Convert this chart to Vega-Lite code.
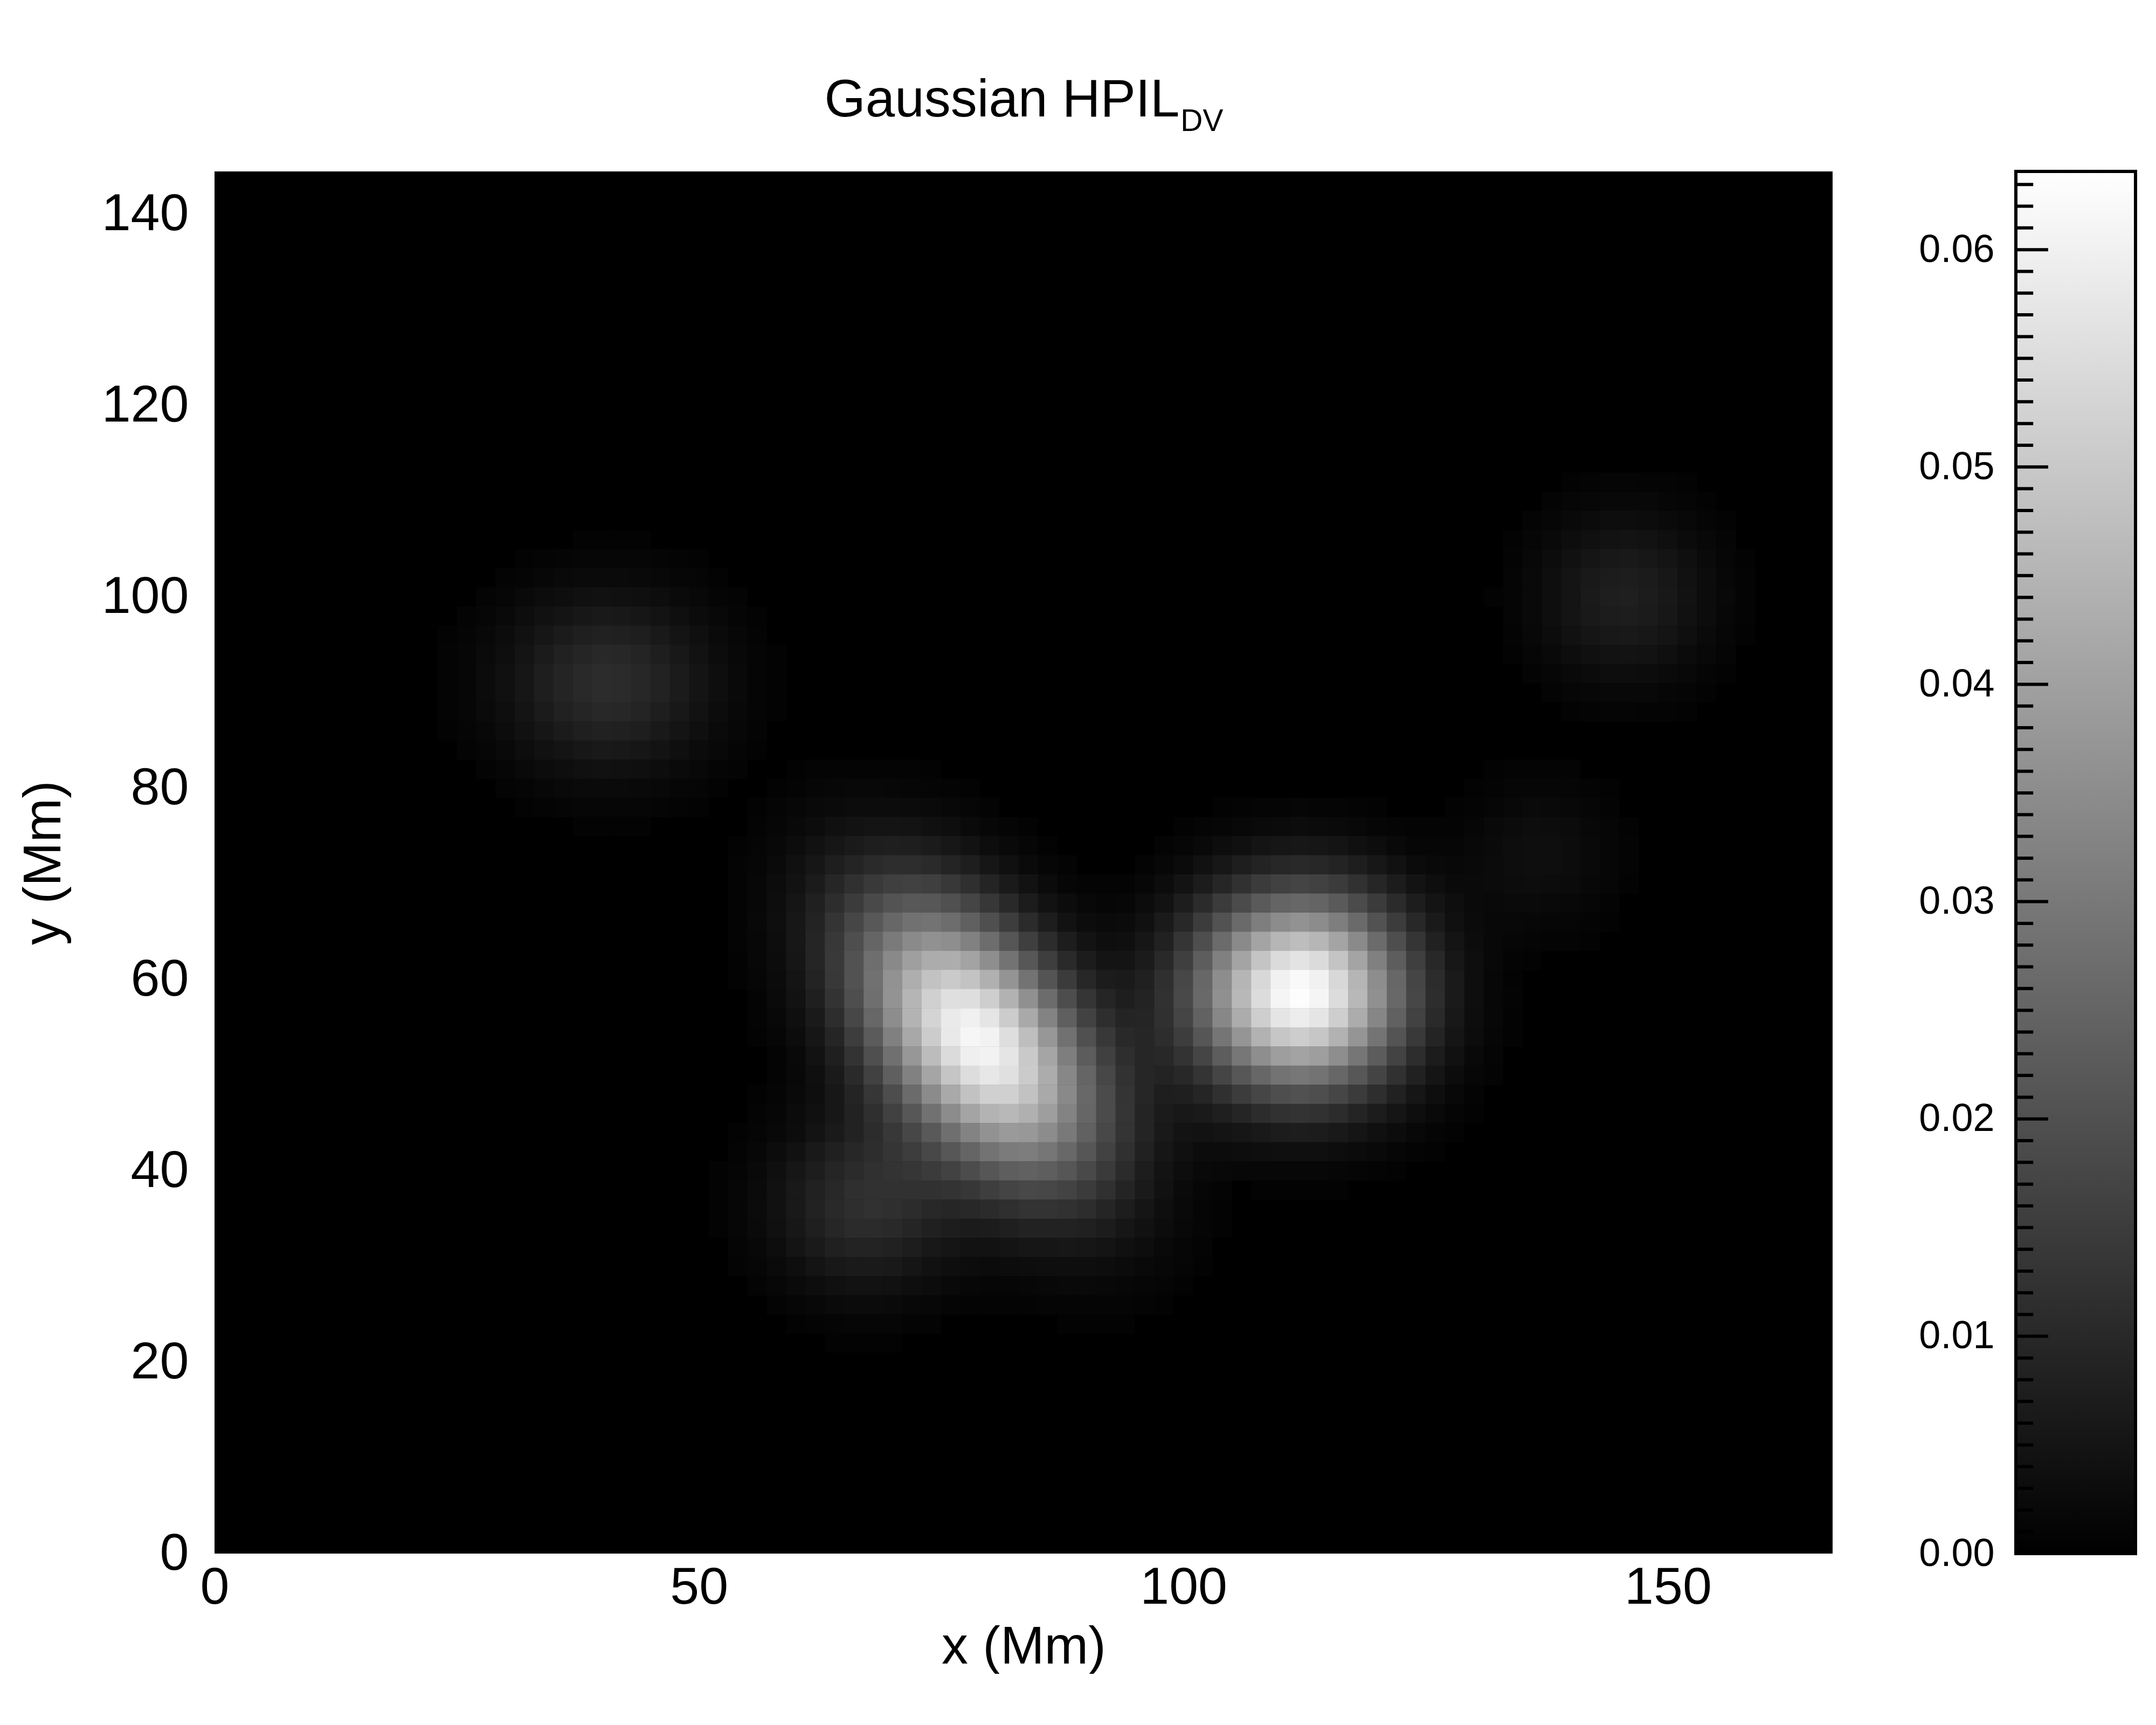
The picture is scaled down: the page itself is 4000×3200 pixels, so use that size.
{"$schema":"https://vega.github.io/schema/vega-lite/v6.json","background":"white","padding":{"left":33,"top":138,"right":0,"bottom":0},"config":{"font":"Liberation Sans","view":{"stroke":null}},"spacing":159,"hconcat":[{"width":3002,"height":2564,"view":{"fill":"#000"},"title":{"text":"Gaussian HPIL","fontSize":98,"fontWeight":"normal","dx":-40,"anchor":"middle","font":"Liberation Sans","offset":-40},"layer":[{"data":{"values":[
{"x":60,"y":82,"v":0.0007},{"x":62,"y":82,"v":0.0009},{"x":64,"y":82,"v":0.001},{"x":66,"y":82,"v":0.0011},{"x":68,"y":82,"v":0.0011},{"x":70,"y":82,"v":0.001},{"x":72,"y":82,"v":0.0009},{"x":74,"y":82,"v":0.0007},
{"x":58,"y":80,"v":0.0008},{"x":60,"y":80,"v":0.0011},{"x":62,"y":80,"v":0.0014},{"x":64,"y":80,"v":0.0017},{"x":66,"y":80,"v":0.0019},{"x":68,"y":80,"v":0.0019},{"x":70,"y":80,"v":0.0018},{"x":72,"y":80,"v":0.0016},{"x":74,"y":80,"v":0.0013},{"x":76,"y":80,"v":0.001},{"x":78,"y":80,"v":0.0007},
{"x":56,"y":78,"v":0.0008},{"x":58,"y":78,"v":0.0012},{"x":60,"y":78,"v":0.0017},{"x":62,"y":78,"v":0.0022},{"x":64,"y":78,"v":0.0026},{"x":66,"y":78,"v":0.003},{"x":68,"y":78,"v":0.0031},{"x":70,"y":78,"v":0.0031},{"x":72,"y":78,"v":0.0028},{"x":74,"y":78,"v":0.0024},{"x":76,"y":78,"v":0.0019},{"x":78,"y":78,"v":0.0014},{"x":80,"y":78,"v":0.001},
{"x":56,"y":76,"v":0.001},{"x":58,"y":76,"v":0.0016},{"x":60,"y":76,"v":0.0023},{"x":62,"y":76,"v":0.0031},{"x":64,"y":76,"v":0.0039},{"x":66,"y":76,"v":0.0045},{"x":68,"y":76,"v":0.0049},{"x":70,"y":76,"v":0.005},{"x":72,"y":76,"v":0.0047},{"x":74,"y":76,"v":0.0041},{"x":76,"y":76,"v":0.0034},{"x":78,"y":76,"v":0.0026},{"x":80,"y":76,"v":0.0018},{"x":82,"y":76,"v":0.0012},{"x":84,"y":76,"v":0.0007},{"x":100,"y":76,"v":0.0008},
{"x":54,"y":74,"v":0.0008},{"x":56,"y":74,"v":0.0013},{"x":58,"y":74,"v":0.002},{"x":60,"y":74,"v":0.0031},{"x":62,"y":74,"v":0.0042},{"x":64,"y":74,"v":0.0055},{"x":66,"y":74,"v":0.0066},{"x":68,"y":74,"v":0.0074},{"x":70,"y":74,"v":0.0077},{"x":72,"y":74,"v":0.0075},{"x":74,"y":74,"v":0.0068},{"x":76,"y":74,"v":0.0057},{"x":78,"y":74,"v":0.0045},{"x":80,"y":74,"v":0.0033},{"x":82,"y":74,"v":0.0022},{"x":84,"y":74,"v":0.0014},{"x":86,"y":74,"v":0.0008},{"x":98,"y":74,"v":0.001},{"x":100,"y":74,"v":0.0016},
{"x":54,"y":72,"v":0.0009},{"x":56,"y":72,"v":0.0015},{"x":58,"y":72,"v":0.0025},{"x":60,"y":72,"v":0.0039},{"x":62,"y":72,"v":0.0056},{"x":64,"y":72,"v":0.0074},{"x":66,"y":72,"v":0.0091},{"x":68,"y":72,"v":0.0105},{"x":70,"y":72,"v":0.0113},{"x":72,"y":72,"v":0.0113},{"x":74,"y":72,"v":0.0105},{"x":76,"y":72,"v":0.0091},{"x":78,"y":72,"v":0.0074},{"x":80,"y":72,"v":0.0056},{"x":82,"y":72,"v":0.0039},{"x":84,"y":72,"v":0.0025},{"x":86,"y":72,"v":0.0015},{"x":88,"y":72,"v":0.0009},{"x":96,"y":72,"v":0.0011},{"x":98,"y":72,"v":0.0018},{"x":100,"y":72,"v":0.0028},
{"x":54,"y":70,"v":0.001},{"x":56,"y":70,"v":0.0017},{"x":58,"y":70,"v":0.003},{"x":60,"y":70,"v":0.0046},{"x":62,"y":70,"v":0.0068},{"x":64,"y":70,"v":0.0094},{"x":66,"y":70,"v":0.012},{"x":68,"y":70,"v":0.0142},{"x":70,"y":70,"v":0.0157},{"x":72,"y":70,"v":0.0162},{"x":74,"y":70,"v":0.0156},{"x":76,"y":70,"v":0.0139},{"x":78,"y":70,"v":0.0116},{"x":80,"y":70,"v":0.009},{"x":82,"y":70,"v":0.0065},{"x":84,"y":70,"v":0.0044},{"x":86,"y":70,"v":0.0027},{"x":88,"y":70,"v":0.0016},{"x":90,"y":70,"v":0.0011},{"x":92,"y":70,"v":0.0009},{"x":94,"y":70,"v":0.001},{"x":96,"y":70,"v":0.0017},{"x":98,"y":70,"v":0.003},{"x":100,"y":70,"v":0.0047},
{"x":54,"y":68,"v":0.001},{"x":56,"y":68,"v":0.0018},{"x":58,"y":68,"v":0.0032},{"x":60,"y":68,"v":0.0052},{"x":62,"y":68,"v":0.0079},{"x":64,"y":68,"v":0.0112},{"x":66,"y":68,"v":0.0148},{"x":68,"y":68,"v":0.0181},{"x":70,"y":68,"v":0.0206},{"x":72,"y":68,"v":0.0219},{"x":74,"y":68,"v":0.0217},{"x":76,"y":68,"v":0.02},{"x":78,"y":68,"v":0.0171},{"x":80,"y":68,"v":0.0137},{"x":82,"y":68,"v":0.0102},{"x":84,"y":68,"v":0.0071},{"x":86,"y":68,"v":0.0046},{"x":88,"y":68,"v":0.003},{"x":90,"y":68,"v":0.0019},{"x":92,"y":68,"v":0.0015},{"x":94,"y":68,"v":0.0018},{"x":96,"y":68,"v":0.0029},{"x":98,"y":68,"v":0.0046},{"x":100,"y":68,"v":0.0072},
{"x":54,"y":66,"v":0.001},{"x":56,"y":66,"v":0.0019},{"x":58,"y":66,"v":0.0034},{"x":60,"y":66,"v":0.0057},{"x":62,"y":66,"v":0.0088},{"x":64,"y":66,"v":0.0129},{"x":66,"y":66,"v":0.0174},{"x":68,"y":66,"v":0.0219},{"x":70,"y":66,"v":0.0257},{"x":72,"y":66,"v":0.0281},{"x":74,"y":66,"v":0.0286},{"x":76,"y":66,"v":0.0271},{"x":78,"y":66,"v":0.024},{"x":80,"y":66,"v":0.0197},{"x":82,"y":66,"v":0.0151},{"x":84,"y":66,"v":0.0108},{"x":86,"y":66,"v":0.0072},{"x":88,"y":66,"v":0.0046},{"x":90,"y":66,"v":0.0031},{"x":92,"y":66,"v":0.0024},{"x":94,"y":66,"v":0.0027},{"x":96,"y":66,"v":0.004},{"x":98,"y":66,"v":0.0065},{"x":100,"y":66,"v":0.0101},
{"x":54,"y":64,"v":0.0009},{"x":56,"y":64,"v":0.0018},{"x":58,"y":64,"v":0.0033},{"x":60,"y":64,"v":0.0057},{"x":62,"y":64,"v":0.0093},{"x":64,"y":64,"v":0.0139},{"x":66,"y":64,"v":0.0194},{"x":68,"y":64,"v":0.0252},{"x":70,"y":64,"v":0.0305},{"x":72,"y":64,"v":0.0343},{"x":74,"y":64,"v":0.0361},{"x":76,"y":64,"v":0.0353},{"x":78,"y":64,"v":0.0321},{"x":80,"y":64,"v":0.0272},{"x":82,"y":64,"v":0.0215},{"x":84,"y":64,"v":0.0158},{"x":86,"y":64,"v":0.0109},{"x":88,"y":64,"v":0.0072},{"x":90,"y":64,"v":0.0047},{"x":92,"y":64,"v":0.0036},{"x":94,"y":64,"v":0.0038},{"x":96,"y":64,"v":0.0055},{"x":98,"y":64,"v":0.0083},{"x":100,"y":64,"v":0.0131},
{"x":54,"y":62,"v":0.0008},{"x":56,"y":62,"v":0.0017},{"x":58,"y":62,"v":0.0031},{"x":60,"y":62,"v":0.0056},{"x":62,"y":62,"v":0.0092},{"x":64,"y":62,"v":0.0143},{"x":66,"y":62,"v":0.0205},{"x":68,"y":62,"v":0.0274},{"x":70,"y":62,"v":0.0342},{"x":72,"y":62,"v":0.0397},{"x":74,"y":62,"v":0.0429},{"x":76,"y":62,"v":0.0432},{"x":78,"y":62,"v":0.0406},{"x":80,"y":62,"v":0.0355},{"x":82,"y":62,"v":0.0288},{"x":84,"y":62,"v":0.0218},{"x":86,"y":62,"v":0.0154},{"x":88,"y":62,"v":0.0104},{"x":90,"y":62,"v":0.007},{"x":92,"y":62,"v":0.0051},{"x":94,"y":62,"v":0.0051},{"x":96,"y":62,"v":0.0067},{"x":98,"y":62,"v":0.0103},{"x":100,"y":62,"v":0.0157},
{"x":54,"y":60,"v":0.0007},{"x":56,"y":60,"v":0.0014},{"x":58,"y":60,"v":0.0028},{"x":60,"y":60,"v":0.0051},{"x":62,"y":60,"v":0.0087},{"x":64,"y":60,"v":0.0139},{"x":66,"y":60,"v":0.0205},{"x":68,"y":60,"v":0.0283},{"x":70,"y":60,"v":0.0364},{"x":72,"y":60,"v":0.0435},{"x":74,"y":60,"v":0.0485},{"x":76,"y":60,"v":0.0504},{"x":78,"y":60,"v":0.0487},{"x":80,"y":60,"v":0.0439},{"x":82,"y":60,"v":0.0368},{"x":84,"y":60,"v":0.0287},{"x":86,"y":60,"v":0.0209},{"x":88,"y":60,"v":0.0146},{"x":90,"y":60,"v":0.0097},{"x":92,"y":60,"v":0.007},{"x":94,"y":60,"v":0.0064},{"x":96,"y":60,"v":0.0079},{"x":98,"y":60,"v":0.0116},{"x":100,"y":60,"v":0.0176},
{"x":56,"y":58,"v":0.0011},{"x":58,"y":58,"v":0.0024},{"x":60,"y":58,"v":0.0044},{"x":62,"y":58,"v":0.0078},{"x":64,"y":58,"v":0.0128},{"x":66,"y":58,"v":0.0195},{"x":68,"y":58,"v":0.0277},{"x":70,"y":58,"v":0.0367},{"x":72,"y":58,"v":0.0452},{"x":74,"y":58,"v":0.052},{"x":76,"y":58,"v":0.0556},{"x":78,"y":58,"v":0.0554},{"x":80,"y":58,"v":0.0514},{"x":82,"y":58,"v":0.0444},{"x":84,"y":58,"v":0.0358},{"x":86,"y":58,"v":0.0269},{"x":88,"y":58,"v":0.0191},{"x":90,"y":58,"v":0.0131},{"x":92,"y":58,"v":0.0092},{"x":94,"y":58,"v":0.0076},{"x":96,"y":58,"v":0.0087},{"x":98,"y":58,"v":0.0122},{"x":100,"y":58,"v":0.0181},
{"x":56,"y":56,"v":0.0009},{"x":58,"y":56,"v":0.0019},{"x":60,"y":56,"v":0.0037},{"x":62,"y":56,"v":0.0066},{"x":64,"y":56,"v":0.0112},{"x":66,"y":56,"v":0.0176},{"x":68,"y":56,"v":0.0258},{"x":70,"y":56,"v":0.0352},{"x":72,"y":56,"v":0.0447},{"x":74,"y":56,"v":0.053},{"x":76,"y":56,"v":0.0583},{"x":78,"y":56,"v":0.0599},{"x":80,"y":56,"v":0.0572},{"x":82,"y":56,"v":0.0509},{"x":84,"y":56,"v":0.0422},{"x":86,"y":56,"v":0.0326},{"x":88,"y":56,"v":0.0238},{"x":90,"y":56,"v":0.0165},{"x":92,"y":56,"v":0.0115},{"x":94,"y":56,"v":0.009},{"x":96,"y":56,"v":0.0092},{"x":98,"y":56,"v":0.012},{"x":100,"y":56,"v":0.0172},
{"x":56,"y":54,"v":0.0007},{"x":58,"y":54,"v":0.0014},{"x":60,"y":54,"v":0.0029},{"x":62,"y":54,"v":0.0054},{"x":64,"y":54,"v":0.0093},{"x":66,"y":54,"v":0.0151},{"x":68,"y":54,"v":0.0228},{"x":70,"y":54,"v":0.032},{"x":72,"y":54,"v":0.0419},{"x":74,"y":54,"v":0.051},{"x":76,"y":54,"v":0.058},{"x":78,"y":54,"v":0.0613},{"x":80,"y":54,"v":0.0604},{"x":82,"y":54,"v":0.0554},{"x":84,"y":54,"v":0.0474},{"x":86,"y":54,"v":0.0376},{"x":88,"y":54,"v":0.0282},{"x":90,"y":54,"v":0.02},{"x":92,"y":54,"v":0.0139},{"x":94,"y":54,"v":0.0103},{"x":96,"y":54,"v":0.0094},{"x":98,"y":54,"v":0.0112},{"x":100,"y":54,"v":0.0152},
{"x":58,"y":52,"v":0.0011},{"x":60,"y":52,"v":0.0023},{"x":62,"y":52,"v":0.0045},{"x":64,"y":52,"v":0.0078},{"x":66,"y":52,"v":0.0128},{"x":68,"y":52,"v":0.0196},{"x":70,"y":52,"v":0.028},{"x":72,"y":52,"v":0.0376},{"x":74,"y":52,"v":0.0468},{"x":76,"y":52,"v":0.0547},{"x":78,"y":52,"v":0.0596},{"x":80,"y":52,"v":0.0604},{"x":82,"y":52,"v":0.0571},{"x":84,"y":52,"v":0.0502},{"x":86,"y":52,"v":0.0411},{"x":88,"y":52,"v":0.0315},{"x":90,"y":52,"v":0.0229},{"x":92,"y":52,"v":0.016},{"x":94,"y":52,"v":0.0114},{"x":96,"y":52,"v":0.0094},{"x":98,"y":52,"v":0.0099},{"x":100,"y":52,"v":0.0127},
{"x":58,"y":50,"v":0.0011},{"x":60,"y":50,"v":0.0021},{"x":62,"y":50,"v":0.0038},{"x":64,"y":50,"v":0.0065},{"x":66,"y":50,"v":0.0105},{"x":68,"y":50,"v":0.0163},{"x":70,"y":50,"v":0.0236},{"x":72,"y":50,"v":0.0321},{"x":74,"y":50,"v":0.0412},{"x":76,"y":50,"v":0.0492},{"x":78,"y":50,"v":0.0552},{"x":80,"y":50,"v":0.0575},{"x":82,"y":50,"v":0.0559},{"x":84,"y":50,"v":0.0506},{"x":86,"y":50,"v":0.0428},{"x":88,"y":50,"v":0.0337},{"x":90,"y":50,"v":0.0251},{"x":92,"y":50,"v":0.0177},{"x":94,"y":50,"v":0.0124},{"x":96,"y":50,"v":0.0094},{"x":98,"y":50,"v":0.0087},{"x":100,"y":50,"v":0.0101},
{"x":56,"y":48,"v":0.0007},{"x":58,"y":48,"v":0.0012},{"x":60,"y":48,"v":0.0022},{"x":62,"y":48,"v":0.0035},{"x":64,"y":48,"v":0.0058},{"x":66,"y":48,"v":0.009},{"x":68,"y":48,"v":0.0134},{"x":70,"y":48,"v":0.0193},{"x":72,"y":48,"v":0.0266},{"x":74,"y":48,"v":0.0346},{"x":76,"y":48,"v":0.0422},{"x":78,"y":48,"v":0.0484},{"x":80,"y":48,"v":0.0519},{"x":82,"y":48,"v":0.0519},{"x":84,"y":48,"v":0.0484},{"x":86,"y":48,"v":0.0422},{"x":88,"y":48,"v":0.0342},{"x":90,"y":48,"v":0.0259},{"x":92,"y":48,"v":0.0188},{"x":94,"y":48,"v":0.013},{"x":96,"y":48,"v":0.0094},{"x":98,"y":48,"v":0.0076},{"x":100,"y":48,"v":0.0078},
{"x":56,"y":46,"v":0.0009},{"x":58,"y":46,"v":0.0014},{"x":60,"y":46,"v":0.0027},{"x":62,"y":46,"v":0.004},{"x":64,"y":46,"v":0.0058},{"x":66,"y":46,"v":0.0084},{"x":68,"y":46,"v":0.0118},{"x":70,"y":46,"v":0.0163},{"x":72,"y":46,"v":0.0218},{"x":74,"y":46,"v":0.0283},{"x":76,"y":46,"v":0.0349},{"x":78,"y":46,"v":0.0408},{"x":80,"y":46,"v":0.0446},{"x":82,"y":46,"v":0.0459},{"x":84,"y":46,"v":0.0439},{"x":86,"y":46,"v":0.0393},{"x":88,"y":46,"v":0.0327},{"x":90,"y":46,"v":0.0255},{"x":92,"y":46,"v":0.0188},{"x":94,"y":46,"v":0.0131},{"x":96,"y":46,"v":0.0091},{"x":98,"y":46,"v":0.0068},{"x":100,"y":46,"v":0.006},
{"x":54,"y":44,"v":0.0007},{"x":56,"y":44,"v":0.0013},{"x":58,"y":44,"v":0.0021},{"x":60,"y":44,"v":0.003},{"x":62,"y":44,"v":0.0048},{"x":64,"y":44,"v":0.0065},{"x":66,"y":44,"v":0.0085},{"x":68,"y":44,"v":0.0109},{"x":70,"y":44,"v":0.0139},{"x":72,"y":44,"v":0.0177},{"x":74,"y":44,"v":0.0223},{"x":76,"y":44,"v":0.0276},{"x":78,"y":44,"v":0.0326},{"x":80,"y":44,"v":0.0365},{"x":82,"y":44,"v":0.0385},{"x":84,"y":44,"v":0.038},{"x":86,"y":44,"v":0.035},{"x":88,"y":44,"v":0.0301},{"x":90,"y":44,"v":0.0241},{"x":92,"y":44,"v":0.018},{"x":94,"y":44,"v":0.013},{"x":96,"y":44,"v":0.0089},{"x":98,"y":44,"v":0.0062},{"x":100,"y":44,"v":0.0048},
{"x":54,"y":42,"v":0.001},{"x":56,"y":42,"v":0.0018},{"x":58,"y":42,"v":0.0029},{"x":60,"y":42,"v":0.0043},{"x":62,"y":42,"v":0.0062},{"x":64,"y":42,"v":0.008},{"x":66,"y":42,"v":0.0097},{"x":68,"y":42,"v":0.0113},{"x":70,"y":42,"v":0.0131},{"x":72,"y":42,"v":0.0152},{"x":74,"y":42,"v":0.018},{"x":76,"y":42,"v":0.0216},{"x":78,"y":42,"v":0.0253},{"x":80,"y":42,"v":0.0286},{"x":82,"y":42,"v":0.0308},{"x":84,"y":42,"v":0.0312},{"x":86,"y":42,"v":0.0294},{"x":88,"y":42,"v":0.026},{"x":90,"y":42,"v":0.0215},{"x":92,"y":42,"v":0.0165},{"x":94,"y":42,"v":0.0119},{"x":96,"y":42,"v":0.0083},{"x":98,"y":42,"v":0.0056},{"x":100,"y":42,"v":0.0039},
{"x":52,"y":40,"v":0.0007},{"x":54,"y":40,"v":0.0013},{"x":56,"y":40,"v":0.0023},{"x":58,"y":40,"v":0.0037},{"x":60,"y":40,"v":0.0054},{"x":62,"y":40,"v":0.0072},{"x":64,"y":40,"v":0.0093},{"x":66,"y":40,"v":0.0108},{"x":68,"y":40,"v":0.0119},{"x":70,"y":40,"v":0.0126},{"x":72,"y":40,"v":0.0134},{"x":74,"y":40,"v":0.0147},{"x":76,"y":40,"v":0.0165},{"x":78,"y":40,"v":0.0189},{"x":80,"y":40,"v":0.0215},{"x":82,"y":40,"v":0.0234},{"x":84,"y":40,"v":0.0242},{"x":86,"y":40,"v":0.0234},{"x":88,"y":40,"v":0.0214},{"x":90,"y":40,"v":0.0182},{"x":92,"y":40,"v":0.0144},{"x":94,"y":40,"v":0.0106},{"x":96,"y":40,"v":0.0073},{"x":98,"y":40,"v":0.0047},{"x":100,"y":40,"v":0.0033},
{"x":52,"y":38,"v":0.0008},{"x":54,"y":38,"v":0.0015},{"x":56,"y":38,"v":0.0026},{"x":58,"y":38,"v":0.0042},{"x":60,"y":38,"v":0.0062},{"x":62,"y":38,"v":0.0082},{"x":64,"y":38,"v":0.01},{"x":66,"y":38,"v":0.0116},{"x":68,"y":38,"v":0.0123},{"x":70,"y":38,"v":0.0123},{"x":72,"y":38,"v":0.0121},{"x":74,"y":38,"v":0.0121},{"x":76,"y":38,"v":0.0126},{"x":78,"y":38,"v":0.0138},{"x":80,"y":38,"v":0.0155},{"x":82,"y":38,"v":0.017},{"x":84,"y":38,"v":0.0179},{"x":86,"y":38,"v":0.0177},{"x":88,"y":38,"v":0.0167},{"x":90,"y":38,"v":0.0146},{"x":92,"y":38,"v":0.0119},{"x":94,"y":38,"v":0.0091},{"x":96,"y":38,"v":0.0064},{"x":98,"y":38,"v":0.0042},{"x":100,"y":38,"v":0.0026},{"x":102,"y":38,"v":0.0015},{"x":104,"y":38,"v":0.0009},{"x":108,"y":38,"v":0.0007},{"x":110,"y":38,"v":0.0008},{"x":112,"y":38,"v":0.0008},{"x":114,"y":38,"v":0.0008},{"x":116,"y":38,"v":0.0007},
{"x":52,"y":36,"v":0.0008},{"x":54,"y":36,"v":0.0015},{"x":56,"y":36,"v":0.0027},{"x":58,"y":36,"v":0.0043},{"x":60,"y":36,"v":0.0063},{"x":62,"y":36,"v":0.0085},{"x":64,"y":36,"v":0.0103},{"x":66,"y":36,"v":0.0115},{"x":68,"y":36,"v":0.0121},{"x":70,"y":36,"v":0.0117},{"x":72,"y":36,"v":0.0109},{"x":74,"y":36,"v":0.01},{"x":76,"y":36,"v":0.0096},{"x":78,"y":36,"v":0.0099},{"x":80,"y":36,"v":0.0107},{"x":82,"y":36,"v":0.0117},{"x":84,"y":36,"v":0.0126},{"x":86,"y":36,"v":0.0127},{"x":88,"y":36,"v":0.0123},{"x":90,"y":36,"v":0.0111},{"x":92,"y":36,"v":0.0093},{"x":94,"y":36,"v":0.0073},{"x":96,"y":36,"v":0.0053},{"x":98,"y":36,"v":0.0036},{"x":100,"y":36,"v":0.0023},{"x":102,"y":36,"v":0.0013},{"x":104,"y":36,"v":0.0007},
{"x":52,"y":34,"v":0.0007},{"x":54,"y":34,"v":0.0014},{"x":56,"y":34,"v":0.0025},{"x":58,"y":34,"v":0.004},{"x":60,"y":34,"v":0.0058},{"x":62,"y":34,"v":0.0078},{"x":64,"y":34,"v":0.0095},{"x":66,"y":34,"v":0.0106},{"x":68,"y":34,"v":0.0108},{"x":70,"y":34,"v":0.0103},{"x":72,"y":34,"v":0.0092},{"x":74,"y":34,"v":0.0079},{"x":76,"y":34,"v":0.0072},{"x":78,"y":34,"v":0.0068},{"x":80,"y":34,"v":0.0071},{"x":82,"y":34,"v":0.0078},{"x":84,"y":34,"v":0.0084},{"x":86,"y":34,"v":0.0086},{"x":88,"y":34,"v":0.0086},{"x":90,"y":34,"v":0.008},{"x":92,"y":34,"v":0.007},{"x":94,"y":34,"v":0.0056},{"x":96,"y":34,"v":0.0042},{"x":98,"y":34,"v":0.003},{"x":100,"y":34,"v":0.0019},{"x":102,"y":34,"v":0.0012},{"x":104,"y":34,"v":0.0007},
{"x":54,"y":32,"v":0.0012},{"x":56,"y":32,"v":0.0021},{"x":58,"y":32,"v":0.0033},{"x":60,"y":32,"v":0.0049},{"x":62,"y":32,"v":0.0065},{"x":64,"y":32,"v":0.0079},{"x":66,"y":32,"v":0.0087},{"x":68,"y":32,"v":0.0088},{"x":70,"y":32,"v":0.0083},{"x":72,"y":32,"v":0.0072},{"x":74,"y":32,"v":0.0061},{"x":76,"y":32,"v":0.0052},{"x":78,"y":32,"v":0.0046},{"x":80,"y":32,"v":0.0045},{"x":82,"y":32,"v":0.0049},{"x":84,"y":32,"v":0.0054},{"x":86,"y":32,"v":0.0056},{"x":88,"y":32,"v":0.0058},{"x":90,"y":32,"v":0.0055},{"x":92,"y":32,"v":0.0049},{"x":94,"y":32,"v":0.0041},{"x":96,"y":32,"v":0.0032},{"x":98,"y":32,"v":0.0023},{"x":100,"y":32,"v":0.0015},{"x":102,"y":32,"v":0.001},
{"x":54,"y":30,"v":0.0009},{"x":56,"y":30,"v":0.0015},{"x":58,"y":30,"v":0.0025},{"x":60,"y":30,"v":0.0036},{"x":62,"y":30,"v":0.0049},{"x":64,"y":30,"v":0.0059},{"x":66,"y":30,"v":0.0065},{"x":68,"y":30,"v":0.0066},{"x":70,"y":30,"v":0.0062},{"x":72,"y":30,"v":0.0053},{"x":74,"y":30,"v":0.0043},{"x":76,"y":30,"v":0.0035},{"x":78,"y":30,"v":0.0029},{"x":80,"y":30,"v":0.0028},{"x":82,"y":30,"v":0.003},{"x":84,"y":30,"v":0.0032},{"x":86,"y":30,"v":0.0034},{"x":88,"y":30,"v":0.0036},{"x":90,"y":30,"v":0.0036},{"x":92,"y":30,"v":0.0033},{"x":94,"y":30,"v":0.0028},{"x":96,"y":30,"v":0.0023},{"x":98,"y":30,"v":0.0017},{"x":100,"y":30,"v":0.0012},{"x":102,"y":30,"v":0.0008},
{"x":56,"y":28,"v":0.0011},{"x":58,"y":28,"v":0.0017},{"x":60,"y":28,"v":0.0025},{"x":62,"y":28,"v":0.0033},{"x":64,"y":28,"v":0.004},{"x":66,"y":28,"v":0.0044},{"x":68,"y":28,"v":0.0045},{"x":70,"y":28,"v":0.0042},{"x":72,"y":28,"v":0.0036},{"x":74,"y":28,"v":0.0029},{"x":76,"y":28,"v":0.0023},{"x":78,"y":28,"v":0.0018},{"x":80,"y":28,"v":0.0016},{"x":82,"y":28,"v":0.0016},{"x":84,"y":28,"v":0.0018},{"x":86,"y":28,"v":0.002},{"x":88,"y":28,"v":0.0022},{"x":90,"y":28,"v":0.0022},{"x":92,"y":28,"v":0.0021},{"x":94,"y":28,"v":0.0018},{"x":96,"y":28,"v":0.0015},{"x":98,"y":28,"v":0.0012},{"x":100,"y":28,"v":0.0008},
{"x":58,"y":26,"v":0.001},{"x":60,"y":26,"v":0.0015},{"x":62,"y":26,"v":0.002},{"x":64,"y":26,"v":0.0024},{"x":66,"y":26,"v":0.0027},{"x":68,"y":26,"v":0.0027},{"x":70,"y":26,"v":0.0025},{"x":72,"y":26,"v":0.0021},{"x":74,"y":26,"v":0.0017},{"x":76,"y":26,"v":0.0013},{"x":78,"y":26,"v":0.001},{"x":80,"y":26,"v":0.0009},{"x":82,"y":26,"v":0.0009},{"x":84,"y":26,"v":0.001},{"x":86,"y":26,"v":0.0012},{"x":88,"y":26,"v":0.0013},{"x":90,"y":26,"v":0.0013},{"x":92,"y":26,"v":0.0013},{"x":94,"y":26,"v":0.0012},{"x":96,"y":26,"v":0.001},{"x":98,"y":26,"v":0.0008},
{"x":60,"y":24,"v":0.0008},{"x":62,"y":24,"v":0.0011},{"x":64,"y":24,"v":0.0013},{"x":66,"y":24,"v":0.0015},{"x":68,"y":24,"v":0.0015},{"x":70,"y":24,"v":0.0014},{"x":72,"y":24,"v":0.0011},{"x":74,"y":24,"v":0.0009},{"x":88,"y":24,"v":0.0007},{"x":90,"y":24,"v":0.0007},{"x":92,"y":24,"v":0.0007},{"x":94,"y":24,"v":0.0007},
{"x":64,"y":22,"v":0.0007},{"x":66,"y":22,"v":0.0008},{"x":68,"y":22,"v":0.0008},{"x":70,"y":22,"v":0.0007},
{"x":132,"y":82,"v":0.0007},{"x":134,"y":82,"v":0.0009},{"x":136,"y":82,"v":0.001},{"x":138,"y":82,"v":0.001},{"x":140,"y":82,"v":0.0009},
{"x":130,"y":80,"v":0.0008},{"x":132,"y":80,"v":0.0011},{"x":134,"y":80,"v":0.0014},{"x":136,"y":80,"v":0.0016},{"x":138,"y":80,"v":0.0016},{"x":140,"y":80,"v":0.0014},{"x":142,"y":80,"v":0.001},{"x":144,"y":80,"v":0.0007},
{"x":104,"y":78,"v":0.0008},{"x":106,"y":78,"v":0.001},{"x":108,"y":78,"v":0.0012},{"x":110,"y":78,"v":0.0013},{"x":112,"y":78,"v":0.0014},{"x":114,"y":78,"v":0.0013},{"x":116,"y":78,"v":0.0012},{"x":118,"y":78,"v":0.001},{"x":120,"y":78,"v":0.0008},{"x":128,"y":78,"v":0.0007},{"x":130,"y":78,"v":0.0011},{"x":132,"y":78,"v":0.0016},{"x":134,"y":78,"v":0.0021},{"x":136,"y":78,"v":0.0024},{"x":138,"y":78,"v":0.0023},{"x":140,"y":78,"v":0.002},{"x":142,"y":78,"v":0.0015},{"x":144,"y":78,"v":0.001},
{"x":102,"y":76,"v":0.0012},{"x":104,"y":76,"v":0.0016},{"x":106,"y":76,"v":0.0021},{"x":108,"y":76,"v":0.0025},{"x":110,"y":76,"v":0.0028},{"x":112,"y":76,"v":0.0029},{"x":114,"y":76,"v":0.0028},{"x":116,"y":76,"v":0.0025},{"x":118,"y":76,"v":0.0021},{"x":120,"y":76,"v":0.0016},{"x":122,"y":76,"v":0.0012},{"x":124,"y":76,"v":0.0009},{"x":126,"y":76,"v":0.001},{"x":128,"y":76,"v":0.0011},{"x":130,"y":76,"v":0.0016},{"x":132,"y":76,"v":0.0022},{"x":134,"y":76,"v":0.0028},{"x":136,"y":76,"v":0.0032},{"x":138,"y":76,"v":0.0031},{"x":140,"y":76,"v":0.0027},{"x":142,"y":76,"v":0.002},{"x":144,"y":76,"v":0.0014},{"x":146,"y":76,"v":0.0008},
{"x":102,"y":74,"v":0.0023},{"x":104,"y":74,"v":0.0032},{"x":106,"y":74,"v":0.0041},{"x":108,"y":74,"v":0.0049},{"x":110,"y":74,"v":0.0055},{"x":112,"y":74,"v":0.0057},{"x":114,"y":74,"v":0.0055},{"x":116,"y":74,"v":0.0049},{"x":118,"y":74,"v":0.0041},{"x":120,"y":74,"v":0.0032},{"x":122,"y":74,"v":0.0023},{"x":124,"y":74,"v":0.0016},{"x":126,"y":74,"v":0.0015},{"x":128,"y":74,"v":0.0016},{"x":130,"y":74,"v":0.002},{"x":132,"y":74,"v":0.0026},{"x":134,"y":74,"v":0.0032},{"x":136,"y":74,"v":0.0036},{"x":138,"y":74,"v":0.0035},{"x":140,"y":74,"v":0.003},{"x":142,"y":74,"v":0.0023},{"x":144,"y":74,"v":0.0015},{"x":146,"y":74,"v":0.0009},
{"x":102,"y":72,"v":0.0042},{"x":104,"y":72,"v":0.0058},{"x":106,"y":72,"v":0.0074},{"x":108,"y":72,"v":0.0088},{"x":110,"y":72,"v":0.0098},{"x":112,"y":72,"v":0.0102},{"x":114,"y":72,"v":0.0098},{"x":116,"y":72,"v":0.0088},{"x":118,"y":72,"v":0.0074},{"x":120,"y":72,"v":0.0058},{"x":122,"y":72,"v":0.0042},{"x":124,"y":72,"v":0.0028},{"x":126,"y":72,"v":0.0023},{"x":128,"y":72,"v":0.0021},{"x":130,"y":72,"v":0.0023},{"x":132,"y":72,"v":0.0028},{"x":134,"y":72,"v":0.0032},{"x":136,"y":72,"v":0.0036},{"x":138,"y":72,"v":0.0035},{"x":140,"y":72,"v":0.003},{"x":142,"y":72,"v":0.0023},{"x":144,"y":72,"v":0.0015},{"x":146,"y":72,"v":0.0009},
{"x":102,"y":70,"v":0.0069},{"x":104,"y":70,"v":0.0096},{"x":106,"y":70,"v":0.0123},{"x":108,"y":70,"v":0.0147},{"x":110,"y":70,"v":0.0163},{"x":112,"y":70,"v":0.0169},{"x":114,"y":70,"v":0.0163},{"x":116,"y":70,"v":0.0147},{"x":118,"y":70,"v":0.0123},{"x":120,"y":70,"v":0.0096},{"x":122,"y":70,"v":0.0069},{"x":124,"y":70,"v":0.0047},{"x":126,"y":70,"v":0.0035},{"x":128,"y":70,"v":0.0026},{"x":130,"y":70,"v":0.0025},{"x":132,"y":70,"v":0.0027},{"x":134,"y":70,"v":0.003},{"x":136,"y":70,"v":0.0032},{"x":138,"y":70,"v":0.0031},{"x":140,"y":70,"v":0.0027},{"x":142,"y":70,"v":0.002},{"x":144,"y":70,"v":0.0014},{"x":146,"y":70,"v":0.0008},
{"x":102,"y":68,"v":0.0106},{"x":104,"y":68,"v":0.0146},{"x":106,"y":68,"v":0.0187},{"x":108,"y":68,"v":0.0224},{"x":110,"y":68,"v":0.0249},{"x":112,"y":68,"v":0.0258},{"x":114,"y":68,"v":0.0249},{"x":116,"y":68,"v":0.0224},{"x":118,"y":68,"v":0.0187},{"x":120,"y":68,"v":0.0146},{"x":122,"y":68,"v":0.0106},{"x":124,"y":68,"v":0.0072},{"x":126,"y":68,"v":0.0049},{"x":128,"y":68,"v":0.0034},{"x":130,"y":68,"v":0.0025},{"x":132,"y":68,"v":0.0023},{"x":134,"y":68,"v":0.0025},{"x":136,"y":68,"v":0.0026},{"x":138,"y":68,"v":0.0023},{"x":140,"y":68,"v":0.002},{"x":142,"y":68,"v":0.0015},{"x":144,"y":68,"v":0.001},
{"x":102,"y":66,"v":0.0149},{"x":104,"y":66,"v":0.0205},{"x":106,"y":66,"v":0.0264},{"x":108,"y":66,"v":0.0315},{"x":110,"y":66,"v":0.035},{"x":112,"y":66,"v":0.0363},{"x":114,"y":66,"v":0.035},{"x":116,"y":66,"v":0.0315},{"x":118,"y":66,"v":0.0264},{"x":120,"y":66,"v":0.0205},{"x":122,"y":66,"v":0.0149},{"x":124,"y":66,"v":0.0101},{"x":126,"y":66,"v":0.0064},{"x":128,"y":66,"v":0.0041},{"x":130,"y":66,"v":0.0028},{"x":132,"y":66,"v":0.0021},{"x":134,"y":66,"v":0.0019},{"x":136,"y":66,"v":0.0017},{"x":138,"y":66,"v":0.0016},{"x":140,"y":66,"v":0.0014},{"x":142,"y":66,"v":0.001},{"x":144,"y":66,"v":0.0007},
{"x":102,"y":64,"v":0.0194},{"x":104,"y":64,"v":0.0267},{"x":106,"y":64,"v":0.0343},{"x":108,"y":64,"v":0.0409},{"x":110,"y":64,"v":0.0455},{"x":112,"y":64,"v":0.0472},{"x":114,"y":64,"v":0.0455},{"x":116,"y":64,"v":0.0409},{"x":118,"y":64,"v":0.0343},{"x":120,"y":64,"v":0.0267},{"x":122,"y":64,"v":0.0194},{"x":124,"y":64,"v":0.0131},{"x":126,"y":64,"v":0.0083},{"x":128,"y":64,"v":0.0049},{"x":130,"y":64,"v":0.0031},{"x":132,"y":64,"v":0.0021},{"x":134,"y":64,"v":0.0015},{"x":136,"y":64,"v":0.0012},{"x":138,"y":64,"v":0.001},{"x":140,"y":64,"v":0.0009},{"x":142,"y":64,"v":0.0007},
{"x":102,"y":62,"v":0.0232},{"x":104,"y":62,"v":0.032},{"x":106,"y":62,"v":0.041},{"x":108,"y":62,"v":0.049},{"x":110,"y":62,"v":0.0545},{"x":112,"y":62,"v":0.0565},{"x":114,"y":62,"v":0.0545},{"x":116,"y":62,"v":0.049},{"x":118,"y":62,"v":0.041},{"x":120,"y":62,"v":0.032},{"x":122,"y":62,"v":0.0232},{"x":124,"y":62,"v":0.0157},{"x":126,"y":62,"v":0.0099},{"x":128,"y":62,"v":0.0058},{"x":130,"y":62,"v":0.0034},{"x":132,"y":62,"v":0.0019},{"x":134,"y":62,"v":0.0011},{"x":136,"y":62,"v":0.0008},
{"x":102,"y":60,"v":0.0256},{"x":104,"y":60,"v":0.0352},{"x":106,"y":60,"v":0.0452},{"x":108,"y":60,"v":0.0539},{"x":110,"y":60,"v":0.06},{"x":112,"y":60,"v":0.0622},{"x":114,"y":60,"v":0.06},{"x":116,"y":60,"v":0.0539},{"x":118,"y":60,"v":0.0452},{"x":120,"y":60,"v":0.0352},{"x":122,"y":60,"v":0.0256},{"x":124,"y":60,"v":0.0173},{"x":126,"y":60,"v":0.0109},{"x":128,"y":60,"v":0.0064},{"x":130,"y":60,"v":0.0035},{"x":132,"y":60,"v":0.0018},{"x":134,"y":60,"v":0.0008},
{"x":102,"y":58,"v":0.0263},{"x":104,"y":58,"v":0.0358},{"x":106,"y":58,"v":0.0459},{"x":108,"y":58,"v":0.0548},{"x":110,"y":58,"v":0.061},{"x":112,"y":58,"v":0.0632},{"x":114,"y":58,"v":0.061},{"x":116,"y":58,"v":0.0548},{"x":118,"y":58,"v":0.0459},{"x":120,"y":58,"v":0.0358},{"x":122,"y":58,"v":0.026},{"x":124,"y":58,"v":0.0176},{"x":126,"y":58,"v":0.0111},{"x":128,"y":58,"v":0.0065},{"x":130,"y":58,"v":0.0035},{"x":132,"y":58,"v":0.0018},{"x":134,"y":58,"v":0.0009},
{"x":102,"y":56,"v":0.0245},{"x":104,"y":56,"v":0.0336},{"x":106,"y":56,"v":0.043},{"x":108,"y":56,"v":0.0513},{"x":110,"y":56,"v":0.0571},{"x":112,"y":56,"v":0.0592},{"x":114,"y":56,"v":0.0571},{"x":116,"y":56,"v":0.0513},{"x":118,"y":56,"v":0.043},{"x":120,"y":56,"v":0.0335},{"x":122,"y":56,"v":0.0243},{"x":124,"y":56,"v":0.0165},{"x":126,"y":56,"v":0.0104},{"x":128,"y":56,"v":0.0061},{"x":130,"y":56,"v":0.0033},{"x":132,"y":56,"v":0.0017},{"x":134,"y":56,"v":0.0008},
{"x":102,"y":54,"v":0.0214},{"x":104,"y":54,"v":0.0291},{"x":106,"y":54,"v":0.0372},{"x":108,"y":54,"v":0.0444},{"x":110,"y":54,"v":0.0494},{"x":112,"y":54,"v":0.0512},{"x":114,"y":54,"v":0.0494},{"x":116,"y":54,"v":0.0444},{"x":118,"y":54,"v":0.0372},{"x":120,"y":54,"v":0.029},{"x":122,"y":54,"v":0.021},{"x":124,"y":54,"v":0.0142},{"x":126,"y":54,"v":0.009},{"x":128,"y":54,"v":0.0053},{"x":130,"y":54,"v":0.0029},{"x":132,"y":54,"v":0.0015},{"x":134,"y":54,"v":0.0007},
{"x":102,"y":52,"v":0.0173},{"x":104,"y":52,"v":0.0232},{"x":106,"y":52,"v":0.0296},{"x":108,"y":52,"v":0.0353},{"x":110,"y":52,"v":0.0393},{"x":112,"y":52,"v":0.0407},{"x":114,"y":52,"v":0.0393},{"x":116,"y":52,"v":0.0353},{"x":118,"y":52,"v":0.0295},{"x":120,"y":52,"v":0.023},{"x":122,"y":52,"v":0.0167},{"x":124,"y":52,"v":0.0113},{"x":126,"y":52,"v":0.0071},{"x":128,"y":52,"v":0.0042},{"x":130,"y":52,"v":0.0023},{"x":132,"y":52,"v":0.0012},
{"x":102,"y":50,"v":0.013},{"x":104,"y":50,"v":0.0172},{"x":106,"y":50,"v":0.0217},{"x":108,"y":50,"v":0.0258},{"x":110,"y":50,"v":0.0288},{"x":112,"y":50,"v":0.0298},{"x":114,"y":50,"v":0.0288},{"x":116,"y":50,"v":0.0258},{"x":118,"y":50,"v":0.0216},{"x":120,"y":50,"v":0.0169},{"x":122,"y":50,"v":0.0122},{"x":124,"y":50,"v":0.0083},{"x":126,"y":50,"v":0.0052},{"x":128,"y":50,"v":0.0031},{"x":130,"y":50,"v":0.0017},{"x":132,"y":50,"v":0.0009},
{"x":102,"y":48,"v":0.0093},{"x":104,"y":48,"v":0.0119},{"x":106,"y":48,"v":0.0149},{"x":108,"y":48,"v":0.0175},{"x":110,"y":48,"v":0.0195},{"x":112,"y":48,"v":0.0202},{"x":114,"y":48,"v":0.0195},{"x":116,"y":48,"v":0.0175},{"x":118,"y":48,"v":0.0147},{"x":120,"y":48,"v":0.0114},{"x":122,"y":48,"v":0.0083},{"x":124,"y":48,"v":0.0056},{"x":126,"y":48,"v":0.0035},{"x":128,"y":48,"v":0.0021},{"x":130,"y":48,"v":0.0011},
{"x":102,"y":46,"v":0.0065},{"x":104,"y":46,"v":0.0077},{"x":106,"y":46,"v":0.0093},{"x":108,"y":46,"v":0.0109},{"x":110,"y":46,"v":0.0122},{"x":112,"y":46,"v":0.0126},{"x":114,"y":46,"v":0.0122},{"x":116,"y":46,"v":0.0109},{"x":118,"y":46,"v":0.0091},{"x":120,"y":46,"v":0.0071},{"x":122,"y":46,"v":0.0052},{"x":124,"y":46,"v":0.0035},{"x":126,"y":46,"v":0.0022},{"x":128,"y":46,"v":0.0013},{"x":130,"y":46,"v":0.0007},
{"x":102,"y":44,"v":0.0045},{"x":104,"y":44,"v":0.0049},{"x":106,"y":44,"v":0.0056},{"x":108,"y":44,"v":0.0063},{"x":110,"y":44,"v":0.0069},{"x":112,"y":44,"v":0.0072},{"x":114,"y":44,"v":0.0069},{"x":116,"y":44,"v":0.0062},{"x":118,"y":44,"v":0.0052},{"x":120,"y":44,"v":0.0041},{"x":122,"y":44,"v":0.003},{"x":124,"y":44,"v":0.002},{"x":126,"y":44,"v":0.0013},{"x":128,"y":44,"v":0.0008},
{"x":102,"y":42,"v":0.0031},{"x":104,"y":42,"v":0.003},{"x":106,"y":42,"v":0.0032},{"x":108,"y":42,"v":0.0035},{"x":110,"y":42,"v":0.0037},{"x":112,"y":42,"v":0.0038},{"x":114,"y":42,"v":0.0037},{"x":116,"y":42,"v":0.0033},{"x":118,"y":42,"v":0.0028},{"x":120,"y":42,"v":0.0022},{"x":122,"y":42,"v":0.0016},{"x":124,"y":42,"v":0.0011},{"x":126,"y":42,"v":0.0007},
{"x":102,"y":40,"v":0.0023},{"x":104,"y":40,"v":0.0019},{"x":106,"y":40,"v":0.0017},{"x":108,"y":40,"v":0.0017},{"x":110,"y":40,"v":0.0018},{"x":112,"y":40,"v":0.0018},{"x":114,"y":40,"v":0.0018},{"x":116,"y":40,"v":0.0016},{"x":118,"y":40,"v":0.0013},{"x":120,"y":40,"v":0.001},{"x":122,"y":40,"v":0.0008},
{"x":38,"y":106,"v":0.0007},{"x":40,"y":106,"v":0.0008},{"x":42,"y":106,"v":0.0008},{"x":44,"y":106,"v":0.0007},
{"x":32,"y":104,"v":0.0008},{"x":34,"y":104,"v":0.001},{"x":36,"y":104,"v":0.0012},{"x":38,"y":104,"v":0.0014},{"x":40,"y":104,"v":0.0015},{"x":42,"y":104,"v":0.0015},{"x":44,"y":104,"v":0.0014},{"x":46,"y":104,"v":0.0012},{"x":48,"y":104,"v":0.0009},{"x":50,"y":104,"v":0.0007},
{"x":30,"y":102,"v":0.001},{"x":32,"y":102,"v":0.0013},{"x":34,"y":102,"v":0.0018},{"x":36,"y":102,"v":0.0022},{"x":38,"y":102,"v":0.0024},{"x":40,"y":102,"v":0.0026},{"x":42,"y":102,"v":0.0026},{"x":44,"y":102,"v":0.0023},{"x":46,"y":102,"v":0.002},{"x":48,"y":102,"v":0.0016},{"x":50,"y":102,"v":0.0012},{"x":52,"y":102,"v":0.0008},
{"x":28,"y":100,"v":0.001},{"x":30,"y":100,"v":0.0015},{"x":32,"y":100,"v":0.0022},{"x":34,"y":100,"v":0.0029},{"x":36,"y":100,"v":0.0035},{"x":38,"y":100,"v":0.004},{"x":40,"y":100,"v":0.0042},{"x":42,"y":100,"v":0.0041},{"x":44,"y":100,"v":0.0038},{"x":46,"y":100,"v":0.0032},{"x":48,"y":100,"v":0.0026},{"x":50,"y":100,"v":0.0019},{"x":52,"y":100,"v":0.0013},{"x":54,"y":100,"v":0.0009},
{"x":26,"y":98,"v":0.0009},{"x":28,"y":98,"v":0.0015},{"x":30,"y":98,"v":0.0023},{"x":32,"y":98,"v":0.0032},{"x":34,"y":98,"v":0.0042},{"x":36,"y":98,"v":0.0051},{"x":38,"y":98,"v":0.0058},{"x":40,"y":98,"v":0.0062},{"x":42,"y":98,"v":0.0061},{"x":44,"y":98,"v":0.0056},{"x":46,"y":98,"v":0.0048},{"x":48,"y":98,"v":0.0038},{"x":50,"y":98,"v":0.0028},{"x":52,"y":98,"v":0.002},{"x":54,"y":98,"v":0.0013},{"x":56,"y":98,"v":0.0008},
{"x":24,"y":96,"v":0.0007},{"x":26,"y":96,"v":0.0012},{"x":28,"y":96,"v":0.002},{"x":30,"y":96,"v":0.003},{"x":32,"y":96,"v":0.0042},{"x":34,"y":96,"v":0.0056},{"x":36,"y":96,"v":0.0068},{"x":38,"y":96,"v":0.0077},{"x":40,"y":96,"v":0.0082},{"x":42,"y":96,"v":0.0081},{"x":44,"y":96,"v":0.0074},{"x":46,"y":96,"v":0.0063},{"x":48,"y":96,"v":0.005},{"x":50,"y":96,"v":0.0037},{"x":52,"y":96,"v":0.0026},{"x":54,"y":96,"v":0.0017},{"x":56,"y":96,"v":0.001},
{"x":24,"y":94,"v":0.0009},{"x":26,"y":94,"v":0.0015},{"x":28,"y":94,"v":0.0024},{"x":30,"y":94,"v":0.0036},{"x":32,"y":94,"v":0.0051},{"x":34,"y":94,"v":0.0067},{"x":36,"y":94,"v":0.0082},{"x":38,"y":94,"v":0.0093},{"x":40,"y":94,"v":0.0099},{"x":42,"y":94,"v":0.0097},{"x":44,"y":94,"v":0.0089},{"x":46,"y":94,"v":0.0076},{"x":48,"y":94,"v":0.0061},{"x":50,"y":94,"v":0.0045},{"x":52,"y":94,"v":0.0031},{"x":54,"y":94,"v":0.002},{"x":56,"y":94,"v":0.0012},{"x":58,"y":94,"v":0.0007},
{"x":24,"y":92,"v":0.0009},{"x":26,"y":92,"v":0.0016},{"x":28,"y":92,"v":0.0027},{"x":30,"y":92,"v":0.004},{"x":32,"y":92,"v":0.0056},{"x":34,"y":92,"v":0.0074},{"x":36,"y":92,"v":0.009},{"x":38,"y":92,"v":0.0103},{"x":40,"y":92,"v":0.0109},{"x":42,"y":92,"v":0.0107},{"x":44,"y":92,"v":0.0098},{"x":46,"y":92,"v":0.0084},{"x":48,"y":92,"v":0.0067},{"x":50,"y":92,"v":0.005},{"x":52,"y":92,"v":0.0034},{"x":54,"y":92,"v":0.0022},{"x":56,"y":92,"v":0.0013},{"x":58,"y":92,"v":0.0007},
{"x":24,"y":90,"v":0.0009},{"x":26,"y":90,"v":0.0016},{"x":28,"y":90,"v":0.0027},{"x":30,"y":90,"v":0.004},{"x":32,"y":90,"v":0.0056},{"x":34,"y":90,"v":0.0074},{"x":36,"y":90,"v":0.009},{"x":38,"y":90,"v":0.0103},{"x":40,"y":90,"v":0.0109},{"x":42,"y":90,"v":0.0107},{"x":44,"y":90,"v":0.0098},{"x":46,"y":90,"v":0.0084},{"x":48,"y":90,"v":0.0067},{"x":50,"y":90,"v":0.005},{"x":52,"y":90,"v":0.0034},{"x":54,"y":90,"v":0.0022},{"x":56,"y":90,"v":0.0013},{"x":58,"y":90,"v":0.0007},
{"x":24,"y":88,"v":0.0009},{"x":26,"y":88,"v":0.0015},{"x":28,"y":88,"v":0.0024},{"x":30,"y":88,"v":0.0036},{"x":32,"y":88,"v":0.0051},{"x":34,"y":88,"v":0.0067},{"x":36,"y":88,"v":0.0082},{"x":38,"y":88,"v":0.0093},{"x":40,"y":88,"v":0.0099},{"x":42,"y":88,"v":0.0097},{"x":44,"y":88,"v":0.0089},{"x":46,"y":88,"v":0.0076},{"x":48,"y":88,"v":0.0061},{"x":50,"y":88,"v":0.0045},{"x":52,"y":88,"v":0.0031},{"x":54,"y":88,"v":0.002},{"x":56,"y":88,"v":0.0012},{"x":58,"y":88,"v":0.0007},
{"x":24,"y":86,"v":0.0007},{"x":26,"y":86,"v":0.0012},{"x":28,"y":86,"v":0.002},{"x":30,"y":86,"v":0.003},{"x":32,"y":86,"v":0.0042},{"x":34,"y":86,"v":0.0056},{"x":36,"y":86,"v":0.0068},{"x":38,"y":86,"v":0.0077},{"x":40,"y":86,"v":0.0082},{"x":42,"y":86,"v":0.0081},{"x":44,"y":86,"v":0.0074},{"x":46,"y":86,"v":0.0063},{"x":48,"y":86,"v":0.005},{"x":50,"y":86,"v":0.0037},{"x":52,"y":86,"v":0.0026},{"x":54,"y":86,"v":0.0017},{"x":56,"y":86,"v":0.001},
{"x":26,"y":84,"v":0.0009},{"x":28,"y":84,"v":0.0015},{"x":30,"y":84,"v":0.0023},{"x":32,"y":84,"v":0.0032},{"x":34,"y":84,"v":0.0042},{"x":36,"y":84,"v":0.0051},{"x":38,"y":84,"v":0.0058},{"x":40,"y":84,"v":0.0062},{"x":42,"y":84,"v":0.0061},{"x":44,"y":84,"v":0.0056},{"x":46,"y":84,"v":0.0048},{"x":48,"y":84,"v":0.0038},{"x":50,"y":84,"v":0.0028},{"x":52,"y":84,"v":0.002},{"x":54,"y":84,"v":0.0013},{"x":56,"y":84,"v":0.0008},
{"x":28,"y":82,"v":0.001},{"x":30,"y":82,"v":0.0015},{"x":32,"y":82,"v":0.0022},{"x":34,"y":82,"v":0.0029},{"x":36,"y":82,"v":0.0035},{"x":38,"y":82,"v":0.004},{"x":40,"y":82,"v":0.0042},{"x":42,"y":82,"v":0.0041},{"x":44,"y":82,"v":0.0038},{"x":46,"y":82,"v":0.0032},{"x":48,"y":82,"v":0.0026},{"x":50,"y":82,"v":0.0019},{"x":52,"y":82,"v":0.0013},{"x":54,"y":82,"v":0.0009},
{"x":30,"y":80,"v":0.001},{"x":32,"y":80,"v":0.0013},{"x":34,"y":80,"v":0.0018},{"x":36,"y":80,"v":0.0022},{"x":38,"y":80,"v":0.0024},{"x":40,"y":80,"v":0.0026},{"x":42,"y":80,"v":0.0026},{"x":44,"y":80,"v":0.0023},{"x":46,"y":80,"v":0.002},{"x":48,"y":80,"v":0.0016},{"x":50,"y":80,"v":0.0012},{"x":52,"y":80,"v":0.0008},
{"x":32,"y":78,"v":0.0008},{"x":34,"y":78,"v":0.001},{"x":36,"y":78,"v":0.0012},{"x":38,"y":78,"v":0.0014},{"x":40,"y":78,"v":0.0015},{"x":42,"y":78,"v":0.0015},{"x":44,"y":78,"v":0.0014},{"x":46,"y":78,"v":0.0012},{"x":48,"y":78,"v":0.0009},{"x":50,"y":78,"v":0.0007},
{"x":38,"y":76,"v":0.0007},{"x":40,"y":76,"v":0.0008},{"x":42,"y":76,"v":0.0008},{"x":44,"y":76,"v":0.0007},
{"x":140,"y":112,"v":0.0008},{"x":142,"y":112,"v":0.001},{"x":144,"y":112,"v":0.0012},{"x":146,"y":112,"v":0.0012},{"x":148,"y":112,"v":0.0011},{"x":150,"y":112,"v":0.0009},{"x":152,"y":112,"v":0.0007},
{"x":138,"y":110,"v":0.001},{"x":140,"y":110,"v":0.0014},{"x":142,"y":110,"v":0.0018},{"x":144,"y":110,"v":0.002},{"x":146,"y":110,"v":0.0021},{"x":148,"y":110,"v":0.0019},{"x":150,"y":110,"v":0.0016},{"x":152,"y":110,"v":0.0012},{"x":154,"y":110,"v":0.0008},
{"x":136,"y":108,"v":0.001},{"x":138,"y":108,"v":0.0016},{"x":140,"y":108,"v":0.0022},{"x":142,"y":108,"v":0.0028},{"x":144,"y":108,"v":0.0032},{"x":146,"y":108,"v":0.0033},{"x":148,"y":108,"v":0.0031},{"x":150,"y":108,"v":0.0026},{"x":152,"y":108,"v":0.002},{"x":154,"y":108,"v":0.0013},{"x":156,"y":108,"v":0.0008},
{"x":134,"y":106,"v":0.0008},{"x":136,"y":106,"v":0.0014},{"x":138,"y":106,"v":0.0023},{"x":140,"y":106,"v":0.0032},{"x":142,"y":106,"v":0.0041},{"x":144,"y":106,"v":0.0046},{"x":146,"y":106,"v":0.0048},{"x":148,"y":106,"v":0.0045},{"x":150,"y":106,"v":0.0037},{"x":152,"y":106,"v":0.0028},{"x":154,"y":106,"v":0.0019},{"x":156,"y":106,"v":0.0012},
{"x":134,"y":104,"v":0.0011},{"x":136,"y":104,"v":0.0019},{"x":138,"y":104,"v":0.0029},{"x":140,"y":104,"v":0.0042},{"x":142,"y":104,"v":0.0053},{"x":144,"y":104,"v":0.006},{"x":146,"y":104,"v":0.0062},{"x":148,"y":104,"v":0.0058},{"x":150,"y":104,"v":0.0049},{"x":152,"y":104,"v":0.0037},{"x":154,"y":104,"v":0.0025},{"x":156,"y":104,"v":0.0015},{"x":158,"y":104,"v":0.0008},
{"x":134,"y":102,"v":0.0013},{"x":136,"y":102,"v":0.0022},{"x":138,"y":102,"v":0.0034},{"x":140,"y":102,"v":0.0049},{"x":142,"y":102,"v":0.0062},{"x":144,"y":102,"v":0.0071},{"x":146,"y":102,"v":0.0073},{"x":148,"y":102,"v":0.0068},{"x":150,"y":102,"v":0.0057},{"x":152,"y":102,"v":0.0043},{"x":154,"y":102,"v":0.0029},{"x":156,"y":102,"v":0.0018},{"x":158,"y":102,"v":0.001},
{"x":132,"y":100,"v":0.0007},{"x":134,"y":100,"v":0.0013},{"x":136,"y":100,"v":0.0023},{"x":138,"y":100,"v":0.0036},{"x":140,"y":100,"v":0.0051},{"x":142,"y":100,"v":0.0065},{"x":144,"y":100,"v":0.0074},{"x":146,"y":100,"v":0.0077},{"x":148,"y":100,"v":0.0071},{"x":150,"y":100,"v":0.006},{"x":152,"y":100,"v":0.0045},{"x":154,"y":100,"v":0.0031},{"x":156,"y":100,"v":0.0019},{"x":158,"y":100,"v":0.001},
{"x":134,"y":98,"v":0.0013},{"x":136,"y":98,"v":0.0022},{"x":138,"y":98,"v":0.0034},{"x":140,"y":98,"v":0.0049},{"x":142,"y":98,"v":0.0062},{"x":144,"y":98,"v":0.0071},{"x":146,"y":98,"v":0.0073},{"x":148,"y":98,"v":0.0068},{"x":150,"y":98,"v":0.0057},{"x":152,"y":98,"v":0.0043},{"x":154,"y":98,"v":0.0029},{"x":156,"y":98,"v":0.0018},{"x":158,"y":98,"v":0.001},
{"x":134,"y":96,"v":0.0011},{"x":136,"y":96,"v":0.0019},{"x":138,"y":96,"v":0.0029},{"x":140,"y":96,"v":0.0042},{"x":142,"y":96,"v":0.0053},{"x":144,"y":96,"v":0.006},{"x":146,"y":96,"v":0.0062},{"x":148,"y":96,"v":0.0058},{"x":150,"y":96,"v":0.0049},{"x":152,"y":96,"v":0.0037},{"x":154,"y":96,"v":0.0025},{"x":156,"y":96,"v":0.0015},{"x":158,"y":96,"v":0.0008},
{"x":134,"y":94,"v":0.0008},{"x":136,"y":94,"v":0.0014},{"x":138,"y":94,"v":0.0023},{"x":140,"y":94,"v":0.0032},{"x":142,"y":94,"v":0.0041},{"x":144,"y":94,"v":0.0046},{"x":146,"y":94,"v":0.0048},{"x":148,"y":94,"v":0.0045},{"x":150,"y":94,"v":0.0037},{"x":152,"y":94,"v":0.0028},{"x":154,"y":94,"v":0.0019},{"x":156,"y":94,"v":0.0012},
{"x":136,"y":92,"v":0.001},{"x":138,"y":92,"v":0.0016},{"x":140,"y":92,"v":0.0022},{"x":142,"y":92,"v":0.0028},{"x":144,"y":92,"v":0.0032},{"x":146,"y":92,"v":0.0033},{"x":148,"y":92,"v":0.0031},{"x":150,"y":92,"v":0.0026},{"x":152,"y":92,"v":0.002},{"x":154,"y":92,"v":0.0013},{"x":156,"y":92,"v":0.0008},
{"x":138,"y":90,"v":0.001},{"x":140,"y":90,"v":0.0014},{"x":142,"y":90,"v":0.0018},{"x":144,"y":90,"v":0.002},{"x":146,"y":90,"v":0.0021},{"x":148,"y":90,"v":0.0019},{"x":150,"y":90,"v":0.0016},{"x":152,"y":90,"v":0.0012},{"x":154,"y":90,"v":0.0008},
{"x":140,"y":88,"v":0.0008},{"x":142,"y":88,"v":0.001},{"x":144,"y":88,"v":0.0012},{"x":146,"y":88,"v":0.0012},{"x":148,"y":88,"v":0.0011},{"x":150,"y":88,"v":0.0009},{"x":152,"y":88,"v":0.0007}
]},"mark":{"type":"rect","width":36.5,"height":36},"encoding":{"x":{"field":"x","type":"quantitative","scale":{"domain":[0,167],"nice":false},"axis":{"values":[0,50,100,150],"grid":false,"ticks":false,"domain":false,"labelFontSize":97,"labelPadding":15,"labelFlush":false,"labelOverlap":false,"title":"x (Mm)","titleFontSize":98,"titleFontWeight":"normal","titlePadding":15}},"y":{"field":"y","type":"quantitative","scale":{"domain":[0,144.5],"nice":false},"axis":{"values":[0,20,40,60,80,100,120,140],"grid":false,"ticks":false,"domain":false,"labelFontSize":97,"labelPadding":48,"labelFlush":false,"labelOverlap":false,"title":"y (Mm)","titleFontSize":98,"titleFontWeight":"normal","titlePadding":66}},"color":{"field":"v","type":"quantitative","scale":{"domain":[0,0.0636],"range":["#000","#fff"],"interpolate":"rgb"},"legend":null}}},{"data":{"values":[{"t":"DV","x":99.7,"y":148.7}]},"mark":{"type":"text","fontSize":57,"align":"left","baseline":"alphabetic","font":"Liberation Sans"},"encoding":{"text":{"field":"t"},"x":{"field":"x","type":"quantitative"},"y":{"field":"y","type":"quantitative"}}}]},{"width":222,"height":2564,"layer":[{"data":{"values":[{"a":0,"b":1,"lo":0,"hi":0.0636}]},"mark":{"type":"rect","color":{"gradient":"linear","x1":0,"y1":1,"x2":0,"y2":0,"stops":[{"offset":0,"color":"#000"},{"offset":1,"color":"#fff"}]}},"encoding":{"x":{"field":"a","type":"quantitative","scale":{"domain":[0,1],"nice":false},"axis":null},"x2":{"field":"b"},"y":{"field":"lo","type":"quantitative","scale":{"domain":[0,0.0636],"nice":false},"axis":{"values":[0,0.01,0.02,0.03,0.04,0.05,0.06],"format":".2f","grid":false,"ticks":false,"domain":false,"labelFontSize":72,"labelPadding":40,"labelFlush":false,"labelOverlap":false,"title":null}},"y2":{"field":"hi"}}},{"data":{"values":[{"t":0.001},{"t":0.002},{"t":0.003},{"t":0.004},{"t":0.005},{"t":0.006},{"t":0.007},{"t":0.008},{"t":0.009},{"t":0.011},{"t":0.012},{"t":0.013},{"t":0.014},{"t":0.015},{"t":0.016},{"t":0.017},{"t":0.018},{"t":0.019},{"t":0.021},{"t":0.022},{"t":0.023},{"t":0.024},{"t":0.025},{"t":0.026},{"t":0.027},{"t":0.028},{"t":0.029},{"t":0.031},{"t":0.032},{"t":0.033},{"t":0.034},{"t":0.035},{"t":0.036},{"t":0.037},{"t":0.038},{"t":0.039},{"t":0.041},{"t":0.042},{"t":0.043},{"t":0.044},{"t":0.045},{"t":0.046},{"t":0.047},{"t":0.048},{"t":0.049},{"t":0.051},{"t":0.052},{"t":0.053},{"t":0.054},{"t":0.055},{"t":0.056},{"t":0.057},{"t":0.058},{"t":0.059},{"t":0.061},{"t":0.062},{"t":0.063}]},"mark":{"type":"rule","color":"#000","strokeWidth":6},"encoding":{"y":{"field":"t","type":"quantitative"},"x":{"datum":0},"x2":{"datum":0.145}}},{"data":{"values":[{"t":0.01},{"t":0.02},{"t":0.03},{"t":0.04},{"t":0.05},{"t":0.06}]},"mark":{"type":"rule","color":"#000","strokeWidth":6},"encoding":{"y":{"field":"t","type":"quantitative"},"x":{"datum":0},"x2":{"datum":0.27}}},{"data":{"values":[{"a":0,"b":1,"lo":0,"hi":0.0636}]},"mark":{"type":"rect","filled":false,"stroke":"#000","strokeWidth":6},"encoding":{"x":{"field":"a","type":"quantitative"},"x2":{"field":"b"},"y":{"field":"lo","type":"quantitative"},"y2":{"field":"hi"}}}]}]}
